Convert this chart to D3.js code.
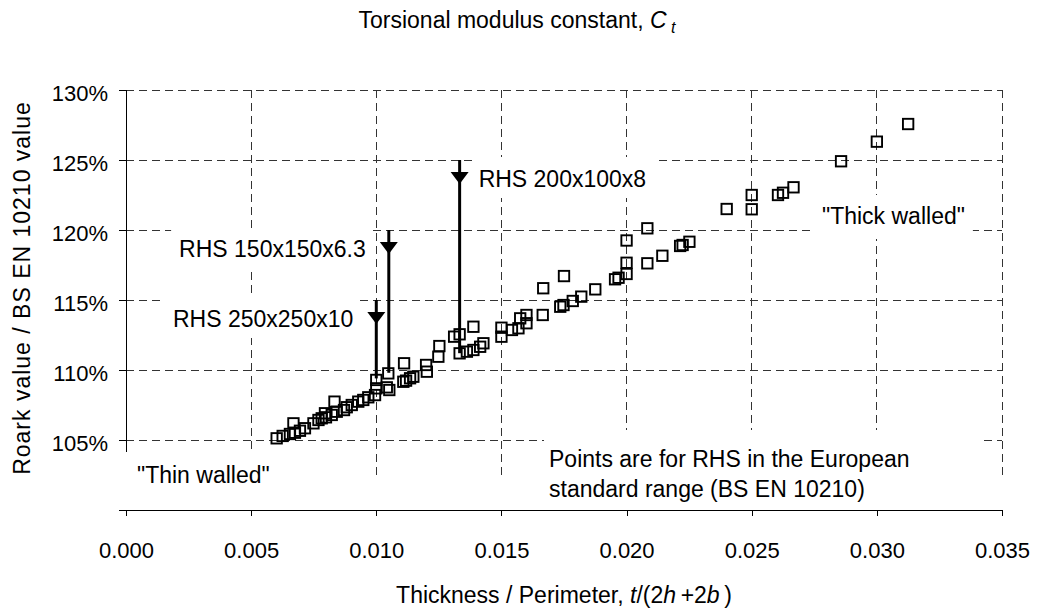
<!DOCTYPE html>
<html>
<head>
<meta charset="utf-8">
<script src="https://cdn.jsdelivr.net/npm/d3@7/dist/d3.min.js"></script>
<style>
  body { margin: 0; background: #fff; }
  svg text { font-family: "Liberation Sans", Arial, sans-serif; fill: #000; }
</style>
</head>
<body>
<svg id="chart" width="1039" height="609"></svg>
<script>
// thickness / perimeter, t/(2h+2b), one per RHS in the BS EN 10210 range
var thickRatio = [
  0.00602, 0.00626, 0.00655, 0.00675, 0.00695, 0.00669, 0.00715, 0.00749, 0.00769, 0.00782,
  0.00799, 0.00795, 0.00822, 0.00842, 0.00833, 0.00871, 0.00882, 0.00902, 0.00928, 0.00948,
  0.00968, 0.00995, 0.01000, 0.01000, 0.01042, 0.01052, 0.01048, 0.01108, 0.01119, 0.01135,
  0.01148, 0.01111, 0.01199, 0.01202, 0.01248, 0.01252, 0.01311, 0.01333, 0.01333, 0.01362,
  0.01388, 0.01388, 0.01415, 0.01428, 0.01500, 0.01500, 0.01542, 0.01568, 0.01575, 0.01600,
  0.01600, 0.01665, 0.01667, 0.01735, 0.01748, 0.01750, 0.01785, 0.01819, 0.01875, 0.01954,
  0.01968, 0.02000, 0.02000, 0.02000, 0.02083, 0.02083, 0.02143, 0.02214, 0.02224, 0.02251,
  0.02400, 0.02500, 0.02500, 0.02605, 0.02625, 0.02667, 0.02857, 0.03000, 0.03125
];
// Roark value / BS EN 10210 value, %
var roarkRatio = [
  105.12, 105.29, 105.43, 105.52, 105.66, 106.19, 105.84, 106.19, 106.43, 106.55,
  106.62, 106.91, 106.79, 107.02, 107.74, 107.14, 107.34, 107.50, 107.74, 107.86,
  108.05, 108.21, 108.69, 109.29, 108.76, 108.57, 109.76, 109.16, 109.24, 109.41,
  109.52, 110.48, 110.36, 109.88, 110.95, 111.71, 112.38, 112.55, 111.19, 111.31,
  111.43, 113.09, 111.66, 111.91, 113.02, 112.38, 112.86, 112.98, 113.69, 113.93,
  113.34, 113.93, 115.84, 114.52, 114.64, 116.71, 114.93, 115.24, 115.76, 116.48,
  116.59, 116.86, 117.66, 119.25, 117.62, 120.12, 118.16, 118.86, 118.93, 119.16,
  121.50, 121.48, 122.50, 122.50, 122.66, 123.05, 124.91, 126.31, 127.57
];

var xTicks = [0, 0.005, 0.010, 0.015, 0.020, 0.025, 0.030, 0.035];
var yTicks = [105, 110, 115, 120, 125, 130];

// highlighted sections: arrow from label level down to the section's point
var markT = [0.0100, 0.0105, 0.01333];
var markTop = [115, 120, 125];
var markBottom = [109.4, 109.8, 111.2];
var markLabel = ["RHS 250x250x10", "RHS 150x150x6.3", "RHS 200x100x8"];
var markSide = ["left", "left", "right"];

var svg = d3.select("#chart");
var tickFont = 22, textFont = 23;

var x = d3.scaleLinear().domain([0, 0.035]).range([126, 1002]);
var y = d3.scaleLinear().domain([100, 130]).range([510, 90]);
var gridFloor = 102.43; // plot area stops above the category axis

// gridlines
var grid = svg.append("g").attr("class", "grid")
  .attr("stroke", "#333").attr("stroke-width", 1)
  .attr("stroke-dasharray", "8,5").attr("shape-rendering", "crispEdges");

grid.selectAll("line.h").data(yTicks).enter().append("line")
  .attr("class", "h")
  .attr("x1", x(0)).attr("x2", x(0.035))
  .attr("y1", d => y(d)).attr("y2", d => y(d));

grid.selectAll("line.v").data(xTicks.slice(1)).enter().append("line")
  .attr("class", "v")
  .attr("x1", d => x(d)).attr("x2", d => x(d))
  .attr("y1", y(130)).attr("y2", y(gridFloor));

// y axis
var yAxis = svg.append("g")
  .attr("transform", "translate(" + x(0) + ",0)")
  .call(d3.axisLeft(y).tickValues(yTicks).tickSize(7).tickFormat(d => d + "%"));
yAxis.select(".domain").remove();
yAxis.selectAll(".tick line").attr("stroke", "#000").attr("shape-rendering", "crispEdges");
yAxis.selectAll(".tick text")
  .attr("x", -18).attr("dy", null).attr("y", 10)
  .style("font-size", tickFont + "px").attr("font-family", null);
yAxis.append("line")
  .attr("x1", 0).attr("x2", 0)
  .attr("y1", y(130)).attr("y2", y(gridFloor))
  .attr("stroke", "#000").attr("shape-rendering", "crispEdges");

// x axis
var xAxis = svg.append("g")
  .attr("transform", "translate(0," + y(100) + ")")
  .call(d3.axisBottom(x).tickValues(xTicks).tickSize(6).tickSizeOuter(0)
    .tickFormat(d3.format(".3f")));
xAxis.select(".domain").attr("stroke", "#000").attr("shape-rendering", "crispEdges");
xAxis.selectAll(".tick line").attr("stroke", "#000").attr("shape-rendering", "crispEdges");
xAxis.selectAll(".tick text")
  .attr("y", 48).attr("dy", null)
  .style("font-size", tickFont + "px").attr("font-family", null);
xAxis.append("line")
  .attr("x1", x(0) - 7).attr("x2", x(0))
  .attr("y1", 0).attr("y2", 0)
  .attr("stroke", "#000").attr("shape-rendering", "crispEdges");

// text with a white box behind it, pad = [left, right, top, bottom]
function boxedText(lines, tx, ty, anchor, pad, lineGap) {
  var g = svg.append("g");
  var t = g.append("text")
    .attr("x", tx).attr("y", ty)
    .attr("text-anchor", anchor)
    .style("font-size", textFont + "px");
  lines.forEach(function (s, i) {
    t.append("tspan").attr("x", tx).attr("dy", i ? lineGap : 0).text(s);
  });
  var b = t.node().getBBox();
  g.insert("rect", "text")
    .attr("x", b.x - pad[0]).attr("y", b.y - pad[2])
    .attr("width", b.width + pad[0] + pad[1])
    .attr("height", b.height + pad[2] + pad[3])
    .attr("fill", "#fff");
  return g;
}

boxedText(['"Thin walled"'], 137, 483, "start", [11, 6, 10, 6], 0);
boxedText(['"Thick walled"'], 822, 224, "start", [10, 8, 8, 10], 0);
boxedText(["Points are for RHS in the European", "standard range (BS EN 10210)"],
  549, 467, "start", [5, 70, 16, 6], 30);

// arrows and their labels
markT.forEach(function (t, i) {
  var px = x(t), top = y(markTop[i]);
  if (markSide[i] == "left") {
    boxedText([markLabel[i]], px - 23, top + 27, "end", [8, 6, 8, 6], 0);
  } else {
    boxedText([markLabel[i]], px + 19, top + 27, "start", [6, 8, 9, 6], 0);
  }
});

var arrows = svg.append("g");
arrows.selectAll("line").data(markT).enter().append("line")
  .attr("x1", d => x(d)).attr("x2", d => x(d))
  .attr("y1", (d, i) => y(markTop[i]))
  .attr("y2", (d, i) => y(markBottom[i]))
  .attr("stroke", "#000").attr("stroke-width", 3);
arrows.selectAll("path").data(markT).enter().append("path")
  .attr("d", function (d, i) {
    var px = x(d), top = y(markTop[i]);
    return "M" + (px - 9) + "," + (top + 12) + "L" + (px + 9) + "," + (top + 12) +
      "L" + px + "," + (top + 24) + "Z";
  })
  .attr("fill", "#000");

// points
svg.append("g").selectAll("rect").data(thickRatio).enter().append("rect")
  .attr("x", d => x(d) - 5.2)
  .attr("y", (d, i) => y(roarkRatio[i]) - 5.2)
  .attr("width", 10.4).attr("height", 10.4)
  .attr("fill", "none").attr("stroke", "#000").attr("stroke-width", 1.9);

// titles
var title = svg.append("text")
  .attr("x", 517).attr("y", 28).attr("text-anchor", "middle")
  .style("font-size", textFont + "px");
title.append("tspan").text("Torsional modulus constant, ");
title.append("tspan").attr("font-style", "italic").text("C");
title.append("tspan").attr("font-style", "italic").attr("dy", 5)
  .style("font-size", "16px").text(" t");

var xTitle = svg.append("text")
  .attr("x", 564).attr("y", 603).attr("text-anchor", "middle")
  .style("font-size", textFont + "px");
xTitle.append("tspan").text("Thickness / Perimeter, ");
xTitle.append("tspan").attr("font-style", "italic").text("t");
xTitle.append("tspan").text("/(2");
xTitle.append("tspan").attr("font-style", "italic").text("h");
xTitle.append("tspan").text("\u2009+2");
xTitle.append("tspan").attr("font-style", "italic").text("b");
xTitle.append("tspan").text("\u2009)");

svg.append("text")
  .attr("transform", "translate(30,288) rotate(-90)")
  .attr("text-anchor", "middle")
  .style("font-size", textFont + "px")
  .style("letter-spacing", "1px")
  .text("Roark value / BS EN 10210 value");
</script>
</body>
</html>
